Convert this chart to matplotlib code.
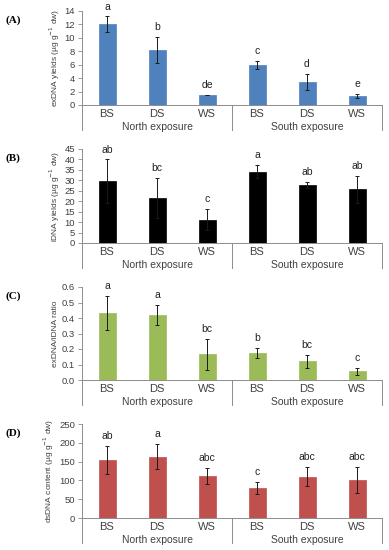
import matplotlib
matplotlib.use('Agg')
import matplotlib.pyplot as plt
import matplotlib.transforms as mtransforms
import numpy as np

plt.rcParams['font.family'] = ['Liberation Sans', 'DejaVu Sans']

sites = ['BS', 'DS', 'WS', 'BS', 'DS', 'WS']
groups = ['North exposure', 'South exposure']

# panel A: exDNA yields
exdna = [12.0, 8.2, 1.5, 6.0, 3.4, 1.3]
exdna_err = [1.2, 2.0, 0.05, 0.6, 1.2, 0.3]
exdna_let = ['a', 'b', 'de', 'c', 'd', 'e']

# panel B: iDNA yields
idna = [29.5, 21.5, 11.2, 34.2, 27.6, 25.7]
idna_err = [10.5, 9.5, 5.0, 3.0, 1.5, 6.5]
idna_let = ['ab', 'bc', 'c', 'a', 'ab', 'ab']

# panel C: ratio
ratio = [0.43, 0.418, 0.165, 0.175, 0.12, 0.055]
ratio_err = [0.11, 0.066, 0.102, 0.03, 0.04, 0.025]
ratio_let = ['a', 'a', 'bc', 'b', 'bc', 'c']

# panel D: dsDNA content
dsdna = [155, 163, 112, 80, 110, 101]
dsdna_err = [37, 33, 22, 17, 25, 34]
dsdna_let = ['ab', 'a', 'abc', 'c', 'abc', 'abc']

panels = [
    ('(A)', exdna, exdna_err, exdna_let, '#4F81BD', 'exDNA yields (µg g$^{-1}$ dw)', 14, 2, '%d', 11, 105),
    ('(B)', idna, idna_err, idna_let, '#000000', 'iDNA yields (µg g$^{-1}$ dw)', 45, 5, '%d', 149, 243),
    ('(C)', ratio, ratio_err, ratio_let, '#9BBB59', 'exDNA/iDNA ratio', 0.6, 0.1, '%.1f', 287, 380),
    ('(D)', dsdna, dsdna_err, dsdna_let, '#C0504D', 'dsDNA content (µg g$^{-1}$ dw)', 250, 50, '%d', 424, 518),
]

W, H = 389, 550
fig = plt.figure(figsize=(W / 100, H / 100), dpi=100)
grey = '#8c8c8c'
tc = '#404040'

for lab, vals, errs, lets, col, ylab, ymax, step, fmt, ytop, ybot in panels:
    x0, x1 = 82, 382
    ax = fig.add_axes([x0 / W, (H - ybot) / H, (x1 - x0) / W, (ybot - ytop) / H])
    x = np.arange(len(vals))
    ax.bar(x, vals, width=0.34, color=col, edgecolor=col, linewidth=0.5, zorder=2)
    ax.errorbar(x, vals, yerr=errs, fmt='none', ecolor='#1a1a1a', elinewidth=0.7,
                capsize=1.5, capthick=0.7, zorder=3)
    for xi, v, e, l in zip(x, vals, errs, lets):
        ax.annotate(l, (xi, v + e), xytext=(0, 3.5), textcoords='offset points',
                    ha='center', va='bottom', fontsize=7.5, color='#222222')
    ax.set_xlim(-0.5, 5.5)
    ax.set_ylim(0, ymax)
    ax.set_yticks(np.arange(0, ymax + step / 2, step))
    ax.yaxis.set_major_formatter(matplotlib.ticker.FormatStrFormatter(fmt))
    ax.set_xticks(x)
    ax.set_xticklabels(sites)
    ax.tick_params(axis='x', length=0, labelsize=8, labelcolor=tc, pad=3)
    ax.tick_params(axis='y', length=3, width=0.6, color=grey, labelsize=6.8, labelcolor=tc, pad=2)
    for s in ['top', 'right']:
        ax.spines[s].set_visible(False)
    for s in ['left', 'bottom']:
        ax.spines[s].set_color(grey)
        ax.spines[s].set_linewidth(0.7)
    ax.set_ylabel(ylab, fontsize=6, color=tc, labelpad=2)

    trans = mtransforms.blended_transform_factory(ax.transData, ax.transAxes)
    depth = 25.0 / (ybot - ytop)
    for xs in [-0.5, 2.5, 5.5]:
        ax.plot([xs, xs], [0, -depth], color=grey, lw=0.7, transform=trans, clip_on=False)
    for gx, g in zip([1, 4], groups):
        ax.text(gx, -depth * 0.88, g, transform=trans, ha='center', va='center',
                fontsize=7.5, color=tc)

    fig.text(5 / W, (H - (ytop + 9)) / H, lab, fontsize=8, fontweight='bold',
             family='Liberation Serif', ha='left', va='center')

fig.savefig('out.png', dpi=100)
